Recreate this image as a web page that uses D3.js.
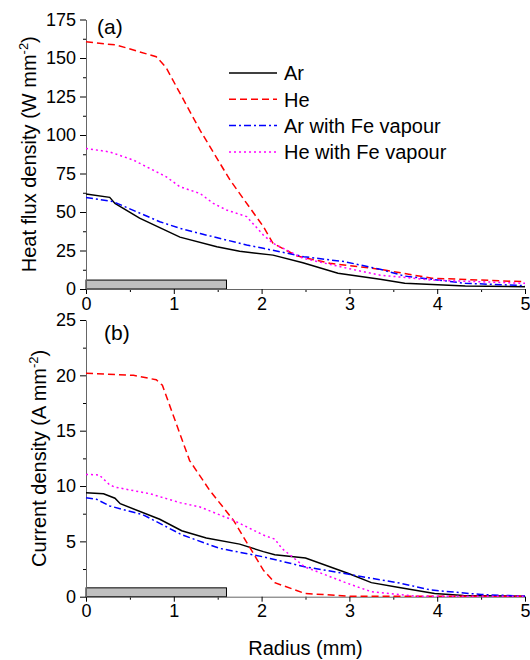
<!DOCTYPE html>
<html>
<head>
<meta charset="utf-8">
<script src="https://cdn.jsdelivr.net/npm/d3@7"></script>
<style>
  body { margin: 0; background: #fff; }
  text { font-family: "Liberation Sans", Arial, sans-serif; fill: #000; }
</style>
</head>
<body>
<div id="chart"></div>
<script>
// series names (legend order)
const seriesNames = ["Ar", "He", "Ar with Fe vapour", "He with Fe vapour"];

// (a) heat flux density, [radius mm, W mm^-2]
const heatAr = [[0,61.7],[0.27,59.5],[0.33,55.6],[0.61,46],[0.87,39],[1.07,33.7],[1.49,27.5],[1.75,24.5],[2.13,22],[2.47,17],[2.87,10.2],[3.35,6.3],[3.63,3.7],[4.32,2],[5,1.5]];
const heatHe = [[0,160.5],[0.35,158.4],[0.8,150.8],[0.91,144],[1.3,103],[1.64,70.8],[2.02,40.5],[2.13,29.7],[2.4,21.5],[2.78,16.7],[3.35,12.8],[3.94,7],[5,4.7]];
const heatArFe = [[0,59.4],[0.31,56.7],[0.84,43.7],[1.07,39.4],[1.3,36],[1.83,28.6],[2.02,26.4],[2.48,21],[2.95,17.7],[3.35,12.8],[3.63,8.4],[4.32,3.7],[5,2.2]];
const heatHeFe = [[0,91.3],[0.27,89],[0.54,83.7],[0.91,73],[1.07,66.4],[1.3,62],[1.45,55.6],[1.6,51.3],[1.83,47],[2.02,35],[2.13,29.7],[2.47,20],[2.98,13.4],[3.35,9],[3.94,5.8],[5,3.7]];

// (b) current density, [radius mm, A mm^-2]
const curAr = [[0,9.4],[0.2,9.3],[0.33,8.9],[0.39,8.4],[0.84,7.0],[1.09,5.96],[1.37,5.3],[1.75,4.75],[2.02,4.07],[2.15,3.8],[2.5,3.5],[2.99,2.1],[3.25,1.27],[3.55,0.85],[3.97,0.3],[4.3,0.1],[5,0.05]];
const curHe = [[0,20.2],[0.54,20.0],[0.8,19.6],[0.87,19.1],[1.18,12.3],[1.41,9.6],[1.68,6.9],[2.02,2.4],[2.15,1.27],[2.49,0.3],[2.98,0.05],[5,0.05]];
const curArFe = [[0,8.95],[0.12,8.8],[0.27,8.2],[0.65,7.4],[1.09,5.6],[1.52,4.37],[2.02,3.6],[2.49,2.7],[2.98,2.05],[3.25,1.66],[3.55,1.27],[3.93,0.6],[4.5,0.2],[5,0.05]];
const curHeFe = [[0,11.05],[0.15,11.0],[0.27,10.1],[0.33,9.9],[0.73,9.3],[1.07,8.5],[1.3,8.1],[1.68,6.9],[2.02,5.57],[2.15,5.2],[2.23,4.37],[2.49,2.7],[2.98,1.2],[3.25,0.45],[3.75,0.05],[5,0.05]];

// electrode (grey bar) radius and bar heights
const electrodeR = 1.6;
const barHeat = 5.8, barCur = 0.8;

const xTicks = [0, 1, 2, 3, 4, 5];
const heatTicks = [0, 25, 50, 75, 100, 125, 150, 175];
const curTicks = [0, 5, 10, 15, 20, 25];

const styles = [
  {color: "#000000", dash: null},
  {color: "#ff0000", dash: "7,4"},
  {color: "#0000ff", dash: "7,3,2,3"},
  {color: "#ff00ff", dash: "2,3"}
];

const W = 530, H = 660;
const svg = d3.select("#chart").append("svg")
  .attr("width", W).attr("height", H);

const x = d3.scaleLinear().domain([0, 5]).range([86, 525]);

function panel(opts) {
  const y = d3.scaleLinear().domain(opts.domain).range([opts.y0, opts.y1]);
  const g = svg.append("g");

  // grey electrode bar
  g.append("rect")
    .attr("x", x(0)).attr("y", y(opts.bar))
    .attr("width", x(electrodeR) - x(0))
    .attr("height", y(0) - y(opts.bar))
    .attr("fill", "#c0c0c0").attr("stroke", "#000").attr("stroke-width", 1);

  // minor ticks
  const xMinor = d3.range(0.5, 5, 1);
  g.append("g").attr("transform", `translate(0,${y(0)})`)
    .call(d3.axisBottom(x).tickValues(xMinor).tickSize(3).tickFormat(""))
    .call(a => a.select(".domain").remove());
  const yMinor = opts.ticks.slice(0, -1).map((t, i) => (t + opts.ticks[i + 1]) / 2);
  g.append("g").attr("transform", `translate(${x(0)},0)`)
    .call(d3.axisLeft(y).tickValues(yMinor).tickSize(3).tickFormat(""))
    .call(a => a.select(".domain").remove());

  // main axes
  const xa = g.append("g").attr("transform", `translate(0,${y(0)})`)
    .call(d3.axisBottom(x).tickValues(xTicks).tickSize(5).tickSizeOuter(0).tickFormat(d3.format("d")));
  const ya = g.append("g").attr("transform", `translate(${x(0)},0)`)
    .call(d3.axisLeft(y).tickValues(opts.ticks).tickSize(6).tickSizeOuter(0).tickFormat(d3.format("d")));
  [xa, ya].forEach(a => {
    a.selectAll("text").style("font-size", "18px").attr("font-family", null);
    a.select(".domain").attr("stroke", "#666");
  });
  ya.selectAll("text").attr("x", -10);

  // lines
  const line = d3.line().x(d => x(d[0])).y(d => y(d[1]));
  opts.series.forEach((s, i) => {
    g.append("path")
      .datum(s)
      .attr("d", line)
      .attr("fill", "none")
      .attr("stroke", styles[i].color)
      .attr("stroke-width", 1.5)
      .attr("stroke-dasharray", styles[i].dash);
  });

  // panel label
  g.append("text").attr("x", opts.labelX).attr("y", opts.labelY)
    .style("font-size", "21px").text(opts.label);

  // y axis title with superscript
  const t = g.append("text")
    .attr("transform", `translate(${opts.titleX},${(opts.y0 + opts.y1) / 2}) rotate(-90)`)
    .attr("text-anchor", "middle")
    .style("font-size", "20px");
  t.append("tspan").text(opts.title);
  t.append("tspan").attr("dy", -8).style("font-size", "13px").text("-2");
  t.append("tspan").attr("dy", 8).text(")");
  return g;
}

panel({
  domain: [0, 175], y0: 289, y1: 19.5, ticks: heatTicks, bar: barHeat,
  series: [heatAr, heatHe, heatArFe, heatHeFe],
  label: "(a)", labelX: 97, labelY: 34,
  title: "Heat flux density (W mm", titleX: 36
});

panel({
  domain: [0, 25], y0: 596.7, y1: 320, ticks: curTicks, bar: barCur,
  series: [curAr, curHe, curArFe, curHeFe],
  label: "(b)", labelX: 104, labelY: 340,
  title: "Current density (A mm", titleX: 46
});

// x axis title
svg.append("text")
  .attr("x", (x(0) + x(5)) / 2).attr("y", 655)
  .attr("text-anchor", "middle")
  .style("font-size", "20px")
  .text("Radius (mm)");

// legend
const legend = svg.append("g").attr("transform", "translate(229,73)");
seriesNames.forEach((name, i) => {
  const row = legend.append("g").attr("transform", `translate(0,${i * 26.3})`);
  row.append("line")
    .attr("x1", 0).attr("x2", 48).attr("y1", 0).attr("y2", 0)
    .attr("stroke", styles[i].color)
    .attr("stroke-width", 1.5)
    .attr("stroke-dasharray", styles[i].dash);
  row.append("text")
    .attr("x", 55).attr("y", 0).attr("dy", "0.36em")
    .style("font-size", "20px")
    .text(name);
});
</script>
</body>
</html>
